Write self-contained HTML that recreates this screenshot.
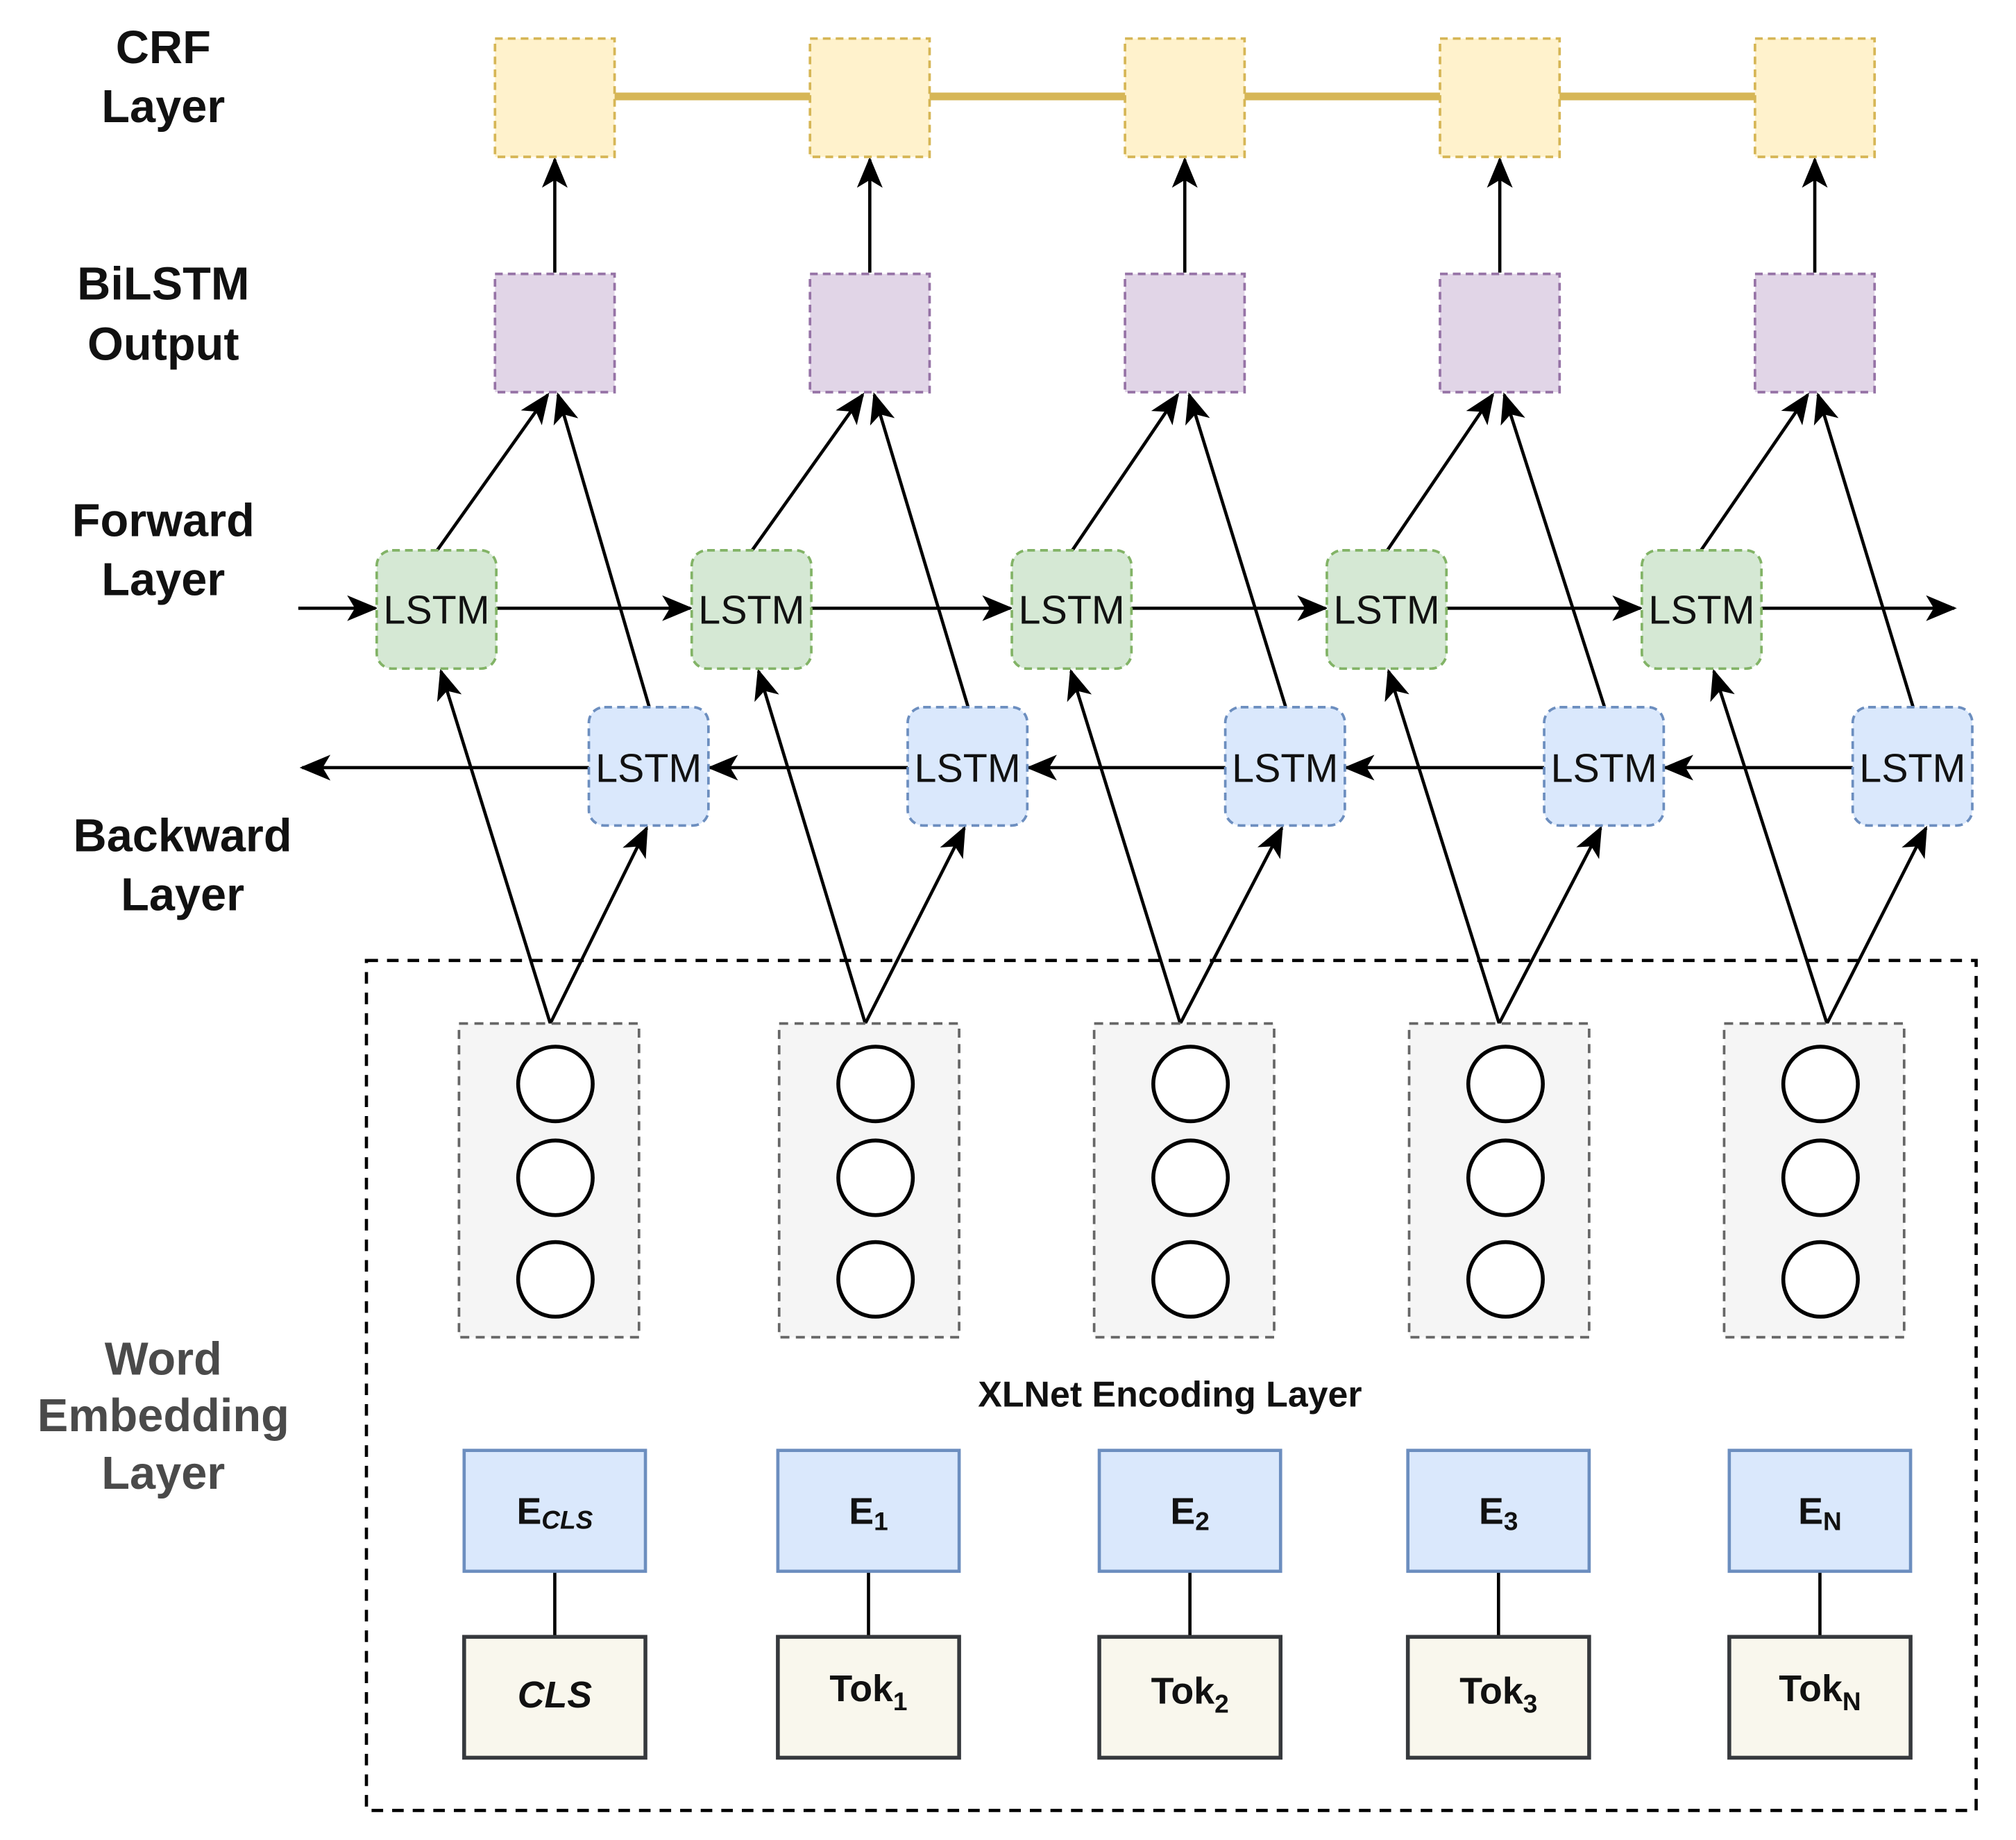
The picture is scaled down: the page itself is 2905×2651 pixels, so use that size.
<!DOCTYPE html>
<html><head><meta charset="utf-8"><style>html,body{margin:0;padding:0;background:#fff}svg{display:block}</style></head>
<body>
<svg width="2905" height="2651" viewBox="0 0 1568 1431" preserveAspectRatio="none" xmlns="http://www.w3.org/2000/svg" font-family="Liberation Sans, sans-serif">
<defs>
<marker id="m" viewBox="0 0 24 20" refX="22" refY="10" markerWidth="24" markerHeight="20" markerUnits="userSpaceOnUse" orient="auto">
<path d="M0,0 L24,10 L0,20 L6,10 z" fill="#000"/>
</marker>
</defs>
<rect width="1568" height="1431" fill="#fff"/>

<g font-weight="bold" font-size="36" text-anchor="middle" fill="#111">
<text x="127" y="49">CRF</text><text x="127" y="95">Layer</text>
<text x="127" y="233">BiLSTM</text><text x="127" y="280">Output</text>
<text x="127" y="417">Forward</text><text x="127" y="463">Layer</text>
<text x="142" y="662">Backward</text><text x="142" y="708">Layer</text>
<g fill="#4a4a4a"><text x="127" y="1069">Word</text><text x="127" y="1113">Embedding</text><text x="127" y="1158">Layer</text></g>
</g>

<line x1="478" y1="75" x2="1365" y2="75" stroke="#d6b656" stroke-width="6"/>

<rect x="285" y="747" width="1252" height="661" fill="none" stroke="#000" stroke-width="2.5" stroke-dasharray="9,7"/>

<g stroke="#000" stroke-width="2.5" fill="none">
<line x1="431.5" y1="212" x2="431.5" y2="124" marker-end="url(#m)"/>
<line x1="676.5" y1="212" x2="676.5" y2="124" marker-end="url(#m)"/>
<line x1="921.5" y1="212" x2="921.5" y2="124" marker-end="url(#m)"/>
<line x1="1166.5" y1="212" x2="1166.5" y2="124" marker-end="url(#m)"/>
<line x1="1411.5" y1="212" x2="1411.5" y2="124" marker-end="url(#m)"/>
<line x1="340" y1="428" x2="426" y2="307" marker-end="url(#m)"/>
<line x1="585" y1="428" x2="671" y2="307" marker-end="url(#m)"/>
<line x1="834" y1="428" x2="916" y2="307" marker-end="url(#m)"/>
<line x1="1079" y1="428" x2="1161" y2="307" marker-end="url(#m)"/>
<line x1="1323" y1="428" x2="1406" y2="307" marker-end="url(#m)"/>
<line x1="505" y1="550" x2="434" y2="307" marker-end="url(#m)"/>
<line x1="753" y1="550" x2="680" y2="307" marker-end="url(#m)"/>
<line x1="1000" y1="550" x2="925" y2="307" marker-end="url(#m)"/>
<line x1="1248" y1="550" x2="1170" y2="307" marker-end="url(#m)"/>
<line x1="1488" y1="550" x2="1414" y2="307" marker-end="url(#m)"/>
<line x1="232" y1="473" x2="292" y2="473" marker-end="url(#m)"/>
<line x1="386" y1="473" x2="537" y2="473" marker-end="url(#m)"/>
<line x1="631" y1="473" x2="786" y2="473" marker-end="url(#m)"/>
<line x1="880" y1="473" x2="1031" y2="473" marker-end="url(#m)"/>
<line x1="1125" y1="473" x2="1276" y2="473" marker-end="url(#m)"/>
<line x1="1370" y1="473" x2="1520" y2="473" marker-end="url(#m)"/>
<line x1="458" y1="597" x2="235" y2="597" marker-end="url(#m)"/>
<line x1="706" y1="597" x2="552" y2="597" marker-end="url(#m)"/>
<line x1="953" y1="597" x2="800" y2="597" marker-end="url(#m)"/>
<line x1="1201" y1="597" x2="1047" y2="597" marker-end="url(#m)"/>
<line x1="1441" y1="597" x2="1295" y2="597" marker-end="url(#m)"/>
<line x1="428" y1="796" x2="343" y2="522" marker-end="url(#m)"/>
<line x1="428" y1="796" x2="503" y2="644" marker-end="url(#m)"/>
<line x1="673" y1="796" x2="590" y2="522" marker-end="url(#m)"/>
<line x1="673" y1="796" x2="750" y2="644" marker-end="url(#m)"/>
<line x1="918" y1="796" x2="833" y2="522" marker-end="url(#m)"/>
<line x1="918" y1="796" x2="997" y2="644" marker-end="url(#m)"/>
<line x1="1166" y1="796" x2="1080" y2="522" marker-end="url(#m)"/>
<line x1="1166" y1="796" x2="1245" y2="644" marker-end="url(#m)"/>
<line x1="1421" y1="796" x2="1333" y2="522" marker-end="url(#m)"/>
<line x1="1421" y1="796" x2="1498" y2="644" marker-end="url(#m)"/>
<line x1="431.5" y1="1222" x2="431.5" y2="1273"/>
<line x1="675.5" y1="1222" x2="675.5" y2="1273"/>
<line x1="925.5" y1="1222" x2="925.5" y2="1273"/>
<line x1="1165.5" y1="1222" x2="1165.5" y2="1273"/>
<line x1="1415.5" y1="1222" x2="1415.5" y2="1273"/>
</g>

<g fill="#fff2cc" stroke="#d6b656" stroke-width="2" stroke-dasharray="6,4">
<rect x="385" y="30" width="93" height="92"/><rect x="630" y="30" width="93" height="92"/><rect x="875" y="30" width="93" height="92"/><rect x="1120" y="30" width="93" height="92"/><rect x="1365" y="30" width="93" height="92"/>
</g>
<g fill="#e1d5e7" stroke="#9673a6" stroke-width="2" stroke-dasharray="6,4">
<rect x="385" y="213" width="93" height="92"/><rect x="630" y="213" width="93" height="92"/><rect x="875" y="213" width="93" height="92"/><rect x="1120" y="213" width="93" height="92"/><rect x="1365" y="213" width="93" height="92"/>
</g>
<g fill="#d5e8d4" stroke="#82b366" stroke-width="2" stroke-dasharray="6,4">
<rect x="293" y="428" width="93" height="92" rx="12"/><rect x="538" y="428" width="93" height="92" rx="12"/><rect x="787" y="428" width="93" height="92" rx="12"/><rect x="1032" y="428" width="93" height="92" rx="12"/><rect x="1277" y="428" width="93" height="92" rx="12"/>
</g>
<g fill="#dae8fc" stroke="#6c8ebf" stroke-width="2" stroke-dasharray="6,4">
<rect x="458" y="550" width="93" height="92" rx="12"/><rect x="706" y="550" width="93" height="92" rx="12"/><rect x="953" y="550" width="93" height="92" rx="12"/><rect x="1201" y="550" width="93" height="92" rx="12"/><rect x="1441" y="550" width="93" height="92" rx="12"/>
</g>
<g font-size="31" text-anchor="middle" fill="#111">
<text x="339.5" y="485">LSTM</text><text x="584.5" y="485">LSTM</text><text x="833.5" y="485">LSTM</text><text x="1078.5" y="485">LSTM</text><text x="1323.5" y="485">LSTM</text>
<text x="504.5" y="608">LSTM</text><text x="752.5" y="608">LSTM</text><text x="999.5" y="608">LSTM</text><text x="1247.5" y="608">LSTM</text><text x="1487.5" y="608">LSTM</text>
</g>

<g fill="#f5f5f5" stroke="#666" stroke-width="2" stroke-dasharray="7,5">
<rect x="357" y="796" width="140" height="244"/><rect x="606" y="796" width="140" height="244"/><rect x="851" y="796" width="140" height="244"/><rect x="1096" y="796" width="140" height="244"/><rect x="1341" y="796" width="140" height="244"/>
</g>
<g fill="#fff" stroke="#000" stroke-width="3">
<ellipse cx="432" cy="843" rx="29" ry="29"/><ellipse cx="432" cy="916" rx="29" ry="29"/><ellipse cx="432" cy="995" rx="29" ry="29"/>
<ellipse cx="681" cy="843" rx="29" ry="29"/><ellipse cx="681" cy="916" rx="29" ry="29"/><ellipse cx="681" cy="995" rx="29" ry="29"/>
<ellipse cx="926" cy="843" rx="29" ry="29"/><ellipse cx="926" cy="916" rx="29" ry="29"/><ellipse cx="926" cy="995" rx="29" ry="29"/>
<ellipse cx="1171" cy="843" rx="29" ry="29"/><ellipse cx="1171" cy="916" rx="29" ry="29"/><ellipse cx="1171" cy="995" rx="29" ry="29"/>
<ellipse cx="1416" cy="843" rx="29" ry="29"/><ellipse cx="1416" cy="916" rx="29" ry="29"/><ellipse cx="1416" cy="995" rx="29" ry="29"/>
</g>

<text x="910" y="1094" font-size="28" font-weight="bold" text-anchor="middle" fill="#111">XLNet Encoding Layer</text>

<g fill="#dae8fc" stroke="#6c8ebf" stroke-width="2.5">
<rect x="361" y="1128" width="141" height="94"/><rect x="605" y="1128" width="141" height="94"/><rect x="855" y="1128" width="141" height="94"/><rect x="1095" y="1128" width="141" height="94"/><rect x="1345" y="1128" width="141" height="94"/>
</g>
<g fill="#f9f7ed" stroke="#36393d" stroke-width="3">
<rect x="361" y="1273" width="141" height="94"/><rect x="605" y="1273" width="141" height="94"/><rect x="855" y="1273" width="141" height="94"/><rect x="1095" y="1273" width="141" height="94"/><rect x="1345" y="1273" width="141" height="94"/>
</g>
<g font-size="29" font-weight="bold" text-anchor="middle" fill="#111">
<text x="431.5" y="1185">E<tspan font-size="20" font-style="italic" dy="4">CLS</tspan></text>
<text x="675.5" y="1185">E<tspan font-size="20" dy="5">1</tspan></text>
<text x="925.5" y="1185">E<tspan font-size="20" dy="5">2</tspan></text>
<text x="1165.5" y="1185">E<tspan font-size="20" dy="5">3</tspan></text>
<text x="1415.5" y="1185">E<tspan font-size="20" dy="5">N</tspan></text>
<text x="431.5" y="1328" font-style="italic">CLS</text>
<text x="675.5" y="1323">Tok<tspan font-size="20" dy="7">1</tspan></text>
<text x="925.5" y="1325">Tok<tspan font-size="20" dy="7">2</tspan></text>
<text x="1165.5" y="1325">Tok<tspan font-size="20" dy="7">3</tspan></text>
<text x="1415.5" y="1323">Tok<tspan font-size="20" dy="7">N</tspan></text>
</g>
</svg>
</body></html>
